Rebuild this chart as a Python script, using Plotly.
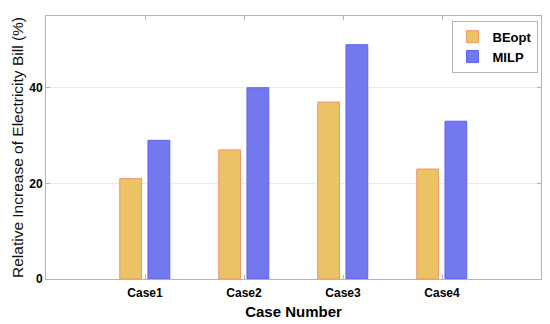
import plotly.graph_objects as go

categories = ["Case1", "Case2", "Case3", "Case4"]
positions = [1, 2, 3, 4]
beopt = [21, 27, 37, 23]
milp = [29, 40, 49, 33]
y_ticks = [0, 20, 40]

fig = go.Figure()
fig.add_trace(go.Bar(x=positions, y=beopt, name="BEopt", offset=-0.255, width=0.22,
                     marker=dict(color="#EBC264", line=dict(color="#F0956A", width=1))))
fig.add_trace(go.Bar(x=positions, y=milp, name="MILP", offset=0.03, width=0.22,
                     marker=dict(color="#7378EE", line=dict(color="#5C61F0", width=1))))

font_bold = "Liberation Sans"
fig.update_layout(
    width=550, height=324,
    margin=dict(l=46, r=9, t=16, b=45, autoexpand=False),
    barmode="overlay",
    plot_bgcolor="white", paper_bgcolor="white",
    font=dict(family=font_bold, color="#000000"),
    legend=dict(x=0.993, y=0.982, xanchor="right", yanchor="top",
                bordercolor="#b4b4b4", borderwidth=1, bgcolor="white",
                font=dict(size=13, family=font_bold, weight="bold"),
                itemwidth=30, tracegroupgap=0),
    xaxis=dict(range=[0, 5], tickvals=positions, ticktext=categories,
               showline=True, linecolor="#b4b4b4", linewidth=1, mirror="ticks",
               ticks="inside", ticklen=4, tickcolor="#b4b4b4", showgrid=False,
               automargin=False, ticklabelstandoff=3,
               tickfont=dict(size=12, weight="bold"),
               title=dict(text="Case Number", font=dict(size=15, weight="bold"), standoff=7)),
    yaxis=dict(range=[0, 55], tickvals=y_ticks,
               showline=True, linecolor="#b4b4b4", linewidth=1, mirror="ticks",
               ticks="inside", ticklen=4, tickcolor="#b4b4b4",
               showgrid=True, gridcolor="#ececec", zeroline=False,
               automargin=False,
               tickfont=dict(size=12, weight="bold"),
               title=dict(text="Relative Increase of Electricity Bill (%)",
                          font=dict(size=15.5, color="#111111"), standoff=1)),
)
fig.write_html("out.html", config={"displayModeBar": False},
               post_script="document.body.style.margin='0';")
